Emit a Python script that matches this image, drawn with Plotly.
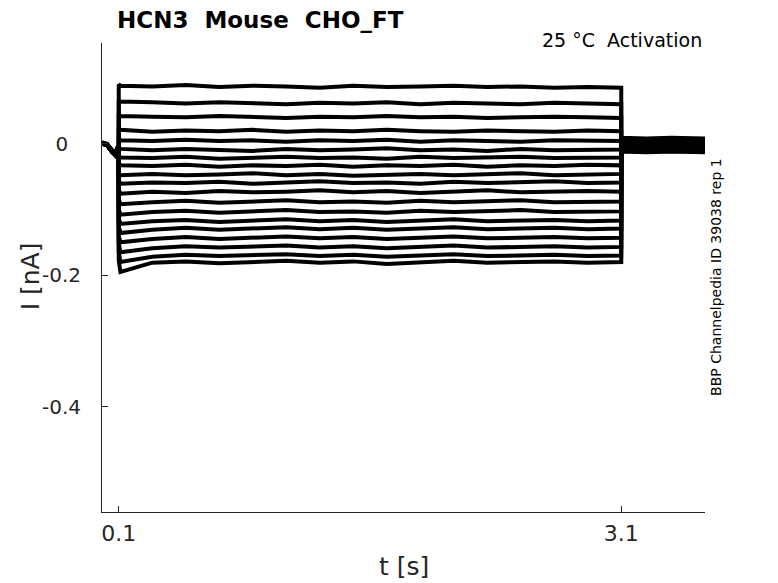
import plotly.graph_objects as go

# time points (s) shared by all sweeps
time_s = [0.00, 0.03, 0.06, 0.08, 0.095, 0.10,
          0.10, 0.11, 0.30, 0.50, 0.70, 0.90, 1.10, 1.30, 1.50, 1.70, 1.90,
          2.10, 2.30, 2.50, 2.70, 2.90, 3.10,
          3.10, 3.25, 3.40, 3.60]

# current (nA) of each sweep
sweep_01 = [0.002, 0.000, -0.010, -0.014, -0.004, -0.003,
            0.090, 0.088, 0.087, 0.089, 0.086, 0.088, 0.087, 0.085, 0.088, 0.086, 0.087,
            0.088, 0.086, 0.087, 0.085, 0.086, 0.085,
            0.009, 0.008, 0.009, 0.008]
sweep_02 = [0.001, -0.001, -0.011, -0.015, -0.005, -0.004,
            0.066, 0.064, 0.063, 0.061, 0.063, 0.062, 0.060, 0.062, 0.061, 0.063, 0.060,
            0.062, 0.061, 0.060, 0.062, 0.061, 0.060,
            0.007, 0.006, 0.007, 0.006]
sweep_03 = [0.000, -0.002, -0.012, -0.016, -0.006, -0.004,
            0.045, 0.042, 0.041, 0.040, 0.042, 0.041, 0.039, 0.041, 0.040, 0.042, 0.040,
            0.041, 0.039, 0.040, 0.041, 0.040, 0.039,
            0.005, 0.004, 0.006, 0.004]
sweep_04 = [0.001, -0.001, -0.010, -0.014, -0.005, -0.005,
            0.024, 0.021, 0.018, 0.020, 0.019, 0.021, 0.018, 0.020, 0.019, 0.021, 0.019,
            0.018, 0.020, 0.019, 0.018, 0.020, 0.019,
            0.004, 0.003, 0.004, 0.003]
sweep_05 = [0.000, -0.002, -0.012, -0.015, -0.006, -0.005,
            0.008, 0.005, 0.004, 0.006, 0.004, 0.005, 0.003, 0.005, 0.004, 0.006, 0.003,
            0.005, 0.004, 0.003, 0.005, 0.004, 0.004,
            0.002, 0.001, 0.002, 0.001]
sweep_06 = [0.002, -0.001, -0.011, -0.017, -0.006, -0.005,
            -0.006, -0.008, -0.010, -0.008, -0.009, -0.011, -0.008, -0.010, -0.009, -0.007, -0.010,
            -0.009, -0.011, -0.008, -0.010, -0.009, -0.009,
            0.001, 0.000, 0.001, 0.000]
sweep_07 = [0.001, -0.002, -0.012, -0.016, -0.006, -0.006,
            -0.018, -0.021, -0.022, -0.020, -0.023, -0.021, -0.020, -0.022, -0.021, -0.023, -0.020,
            -0.022, -0.021, -0.020, -0.022, -0.021, -0.021,
            0.000, -0.001, 0.000, -0.001]
sweep_08 = [0.000, -0.001, -0.010, -0.015, -0.007, -0.006,
            -0.030, -0.033, -0.034, -0.032, -0.035, -0.033, -0.034, -0.032, -0.035, -0.033, -0.034,
            -0.032, -0.035, -0.033, -0.034, -0.032, -0.033,
            -0.001, -0.002, -0.001, -0.002]
sweep_09 = [0.001, -0.002, -0.011, -0.016, -0.006, -0.006,
            -0.044, -0.048, -0.046, -0.048, -0.047, -0.045, -0.048, -0.046, -0.049, -0.047, -0.046,
            -0.048, -0.047, -0.045, -0.048, -0.047, -0.046,
            -0.002, -0.003, -0.002, -0.003]
sweep_10 = [0.000, -0.002, -0.012, -0.017, -0.007, -0.007,
            -0.056, -0.061, -0.059, -0.060, -0.058, -0.061, -0.059, -0.057, -0.060, -0.059, -0.061,
            -0.058, -0.060, -0.059, -0.057, -0.060, -0.059,
            -0.003, -0.004, -0.003, -0.004]
sweep_11 = [0.001, -0.001, -0.011, -0.015, -0.006, -0.007,
            -0.070, -0.076, -0.073, -0.075, -0.072, -0.074, -0.073, -0.071, -0.074, -0.072, -0.075,
            -0.073, -0.071, -0.074, -0.073, -0.072, -0.073,
            -0.004, -0.005, -0.004, -0.005]
sweep_12 = [0.000, -0.002, -0.012, -0.016, -0.007, -0.007,
            -0.085, -0.092, -0.089, -0.087, -0.090, -0.088, -0.086, -0.089, -0.088, -0.090, -0.087,
            -0.089, -0.088, -0.086, -0.089, -0.088, -0.088,
            -0.005, -0.006, -0.005, -0.006]
sweep_13 = [0.001, -0.002, -0.013, -0.017, -0.007, -0.008,
            -0.100, -0.108, -0.104, -0.102, -0.105, -0.103, -0.101, -0.104, -0.103, -0.105, -0.102,
            -0.104, -0.103, -0.101, -0.104, -0.103, -0.103,
            -0.006, -0.007, -0.006, -0.007]
sweep_14 = [0.000, -0.001, -0.011, -0.016, -0.007, -0.008,
            -0.114, -0.122, -0.118, -0.116, -0.119, -0.117, -0.115, -0.118, -0.116, -0.119, -0.117,
            -0.115, -0.118, -0.117, -0.116, -0.118, -0.117,
            -0.007, -0.008, -0.007, -0.008]
sweep_15 = [0.001, -0.002, -0.012, -0.017, -0.008, -0.008,
            -0.126, -0.136, -0.131, -0.128, -0.131, -0.129, -0.127, -0.130, -0.128, -0.131, -0.129,
            -0.127, -0.130, -0.129, -0.128, -0.130, -0.129,
            -0.008, -0.009, -0.008, -0.009]
sweep_16 = [0.000, -0.002, -0.013, -0.018, -0.008, -0.009,
            -0.140, -0.150, -0.145, -0.142, -0.145, -0.143, -0.141, -0.144, -0.142, -0.145, -0.143,
            -0.141, -0.144, -0.143, -0.142, -0.144, -0.143,
            -0.009, -0.010, -0.009, -0.010]
sweep_17 = [0.001, -0.001, -0.012, -0.016, -0.008, -0.009,
            -0.152, -0.165, -0.159, -0.156, -0.158, -0.157, -0.155, -0.158, -0.156, -0.159, -0.157,
            -0.155, -0.158, -0.157, -0.156, -0.158, -0.157,
            -0.010, -0.011, -0.010, -0.011]
sweep_18 = [0.000, -0.002, -0.013, -0.017, -0.009, -0.009,
            -0.165, -0.180, -0.172, -0.169, -0.171, -0.170, -0.168, -0.171, -0.169, -0.172, -0.170,
            -0.168, -0.171, -0.170, -0.169, -0.171, -0.170,
            -0.011, -0.012, -0.011, -0.012]
sweep_19 = [0.001, -0.002, -0.012, -0.018, -0.009, -0.010,
            -0.178, -0.195, -0.181, -0.179, -0.182, -0.180, -0.178, -0.181, -0.179, -0.183, -0.180,
            -0.178, -0.181, -0.180, -0.179, -0.181, -0.180,
            -0.012, -0.013, -0.012, -0.013]

sweeps = [sweep_01, sweep_02, sweep_03, sweep_04, sweep_05, sweep_06, sweep_07,
          sweep_08, sweep_09, sweep_10, sweep_11, sweep_12, sweep_13, sweep_14,
          sweep_15, sweep_16, sweep_17, sweep_18, sweep_19]

x_tick_vals = [0.1, 3.1]
x_tick_text = ["0.1", "3.1"]
y_tick_vals = [-0.4, -0.2, 0]
y_tick_text = ["-0.4", "-0.2", "0\u00a0\u00a0"]

title_text = "HCN3  Mouse  CHO_FT"
condition_text = "25 °C  Activation"
source_text = "BBP Channelpedia ID 39038 rep 1"

FONT = "DejaVu Sans"
AX = "#262626"

fig = go.Figure()
for s in sweeps:
    fig.add_trace(go.Scatter(x=time_s, y=s, mode="lines",
                             line=dict(color="black", width=4),
                             showlegend=False, hoverinfo="skip"))

fig.update_layout(
    width=770, height=575,
    margin=dict(l=94, r=73, t=35, b=71),
    paper_bgcolor="white", plot_bgcolor="white",
    font=dict(family=FONT, color=AX),
    showlegend=False,
)
fig.update_xaxes(range=[0, 3.6], showgrid=False, zeroline=False,
                 showline=True, linecolor=AX, linewidth=1,
                 ticks="inside", ticklen=6, tickcolor=AX,
                 tickvals=x_tick_vals, ticktext=x_tick_text,
                 tickfont=dict(size=22, family=FONT, color=AX),
                 ticklabelstandoff=2)
fig.update_yaxes(range=[-0.56, 0.153], showgrid=False, zeroline=False,
                 showline=True, linecolor=AX, linewidth=1,
                 ticks="inside", ticklen=6, tickcolor=AX,
                 tickvals=y_tick_vals, ticktext=y_tick_text,
                 tickfont=dict(size=20, family=FONT, color=AX),
                 ticklabelstandoff=16)

fig.add_annotation(text="t [s]", x=0.5008, y=-0.117, xref="paper", yref="paper",
                   showarrow=False, xanchor="center", yanchor="middle",
                   font=dict(size=25, family=FONT, color=AX))
fig.add_annotation(text="I [nA]", x=-0.119, y=0.503, xref="paper", yref="paper",
                   showarrow=False, xanchor="center", yanchor="middle", textangle=-90,
                   font=dict(size=25, family=FONT, color=AX))
fig.add_annotation(text="<b>" + title_text + "</b>", x=0.0216, y=1.05,
                   xref="paper", yref="paper", showarrow=False,
                   xanchor="left", yanchor="middle",
                   font=dict(size=23, family=FONT, color="black"))
fig.add_annotation(text=condition_text, x=0.998, y=1.006, xref="paper", yref="paper",
                   showarrow=False, xanchor="right", yanchor="middle",
                   font=dict(size=19, family=FONT, color="black"))
fig.add_annotation(text=source_text, x=1.018, y=0.501, xref="paper", yref="paper",
                   showarrow=False, xanchor="center", yanchor="middle", textangle=-90,
                   font=dict(size=14, family=FONT, color="black"))

fig.write_html("out.html")
